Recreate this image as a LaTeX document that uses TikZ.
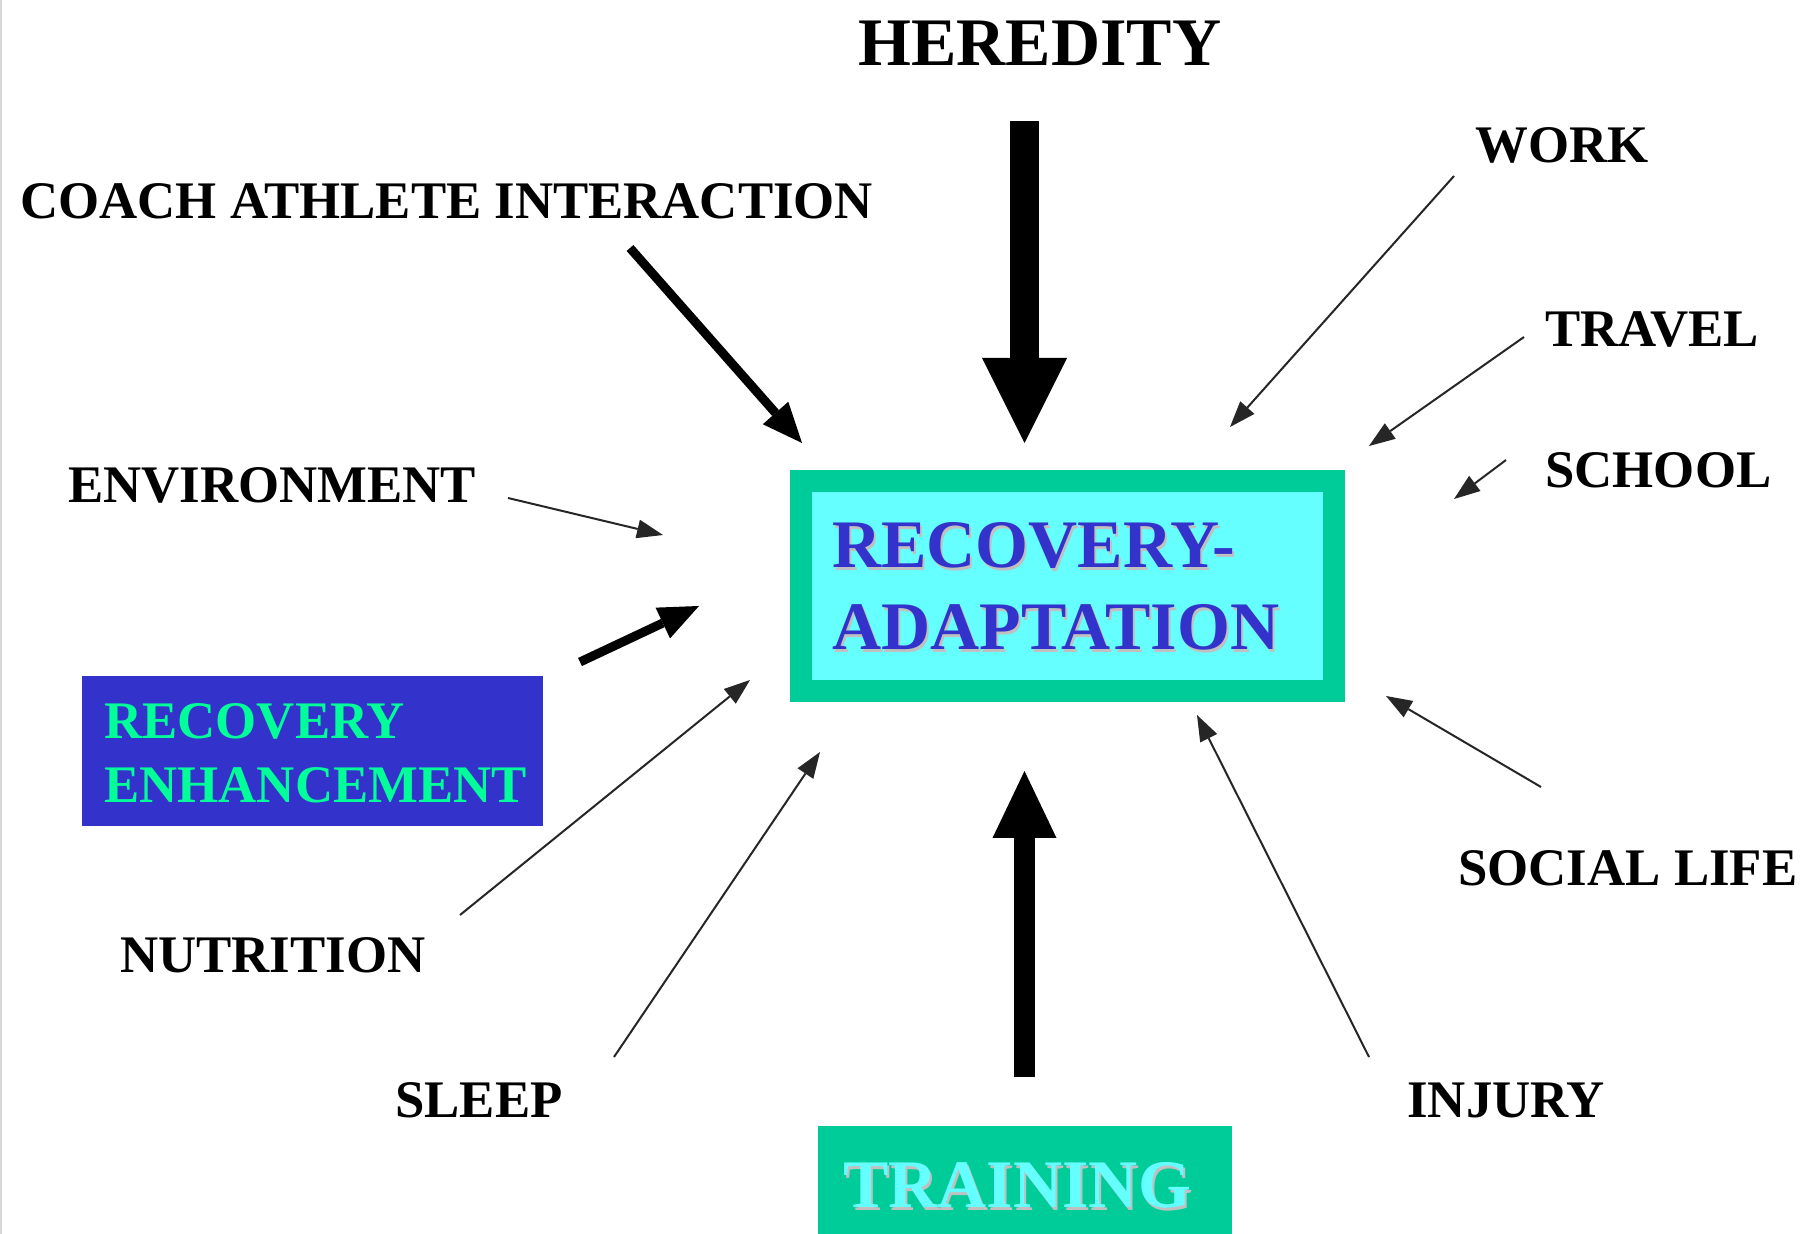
\documentclass[tikz,border=0pt]{standalone}
\usepackage{fontspec}
\setmainfont{Liberation Serif}
\usetikzlibrary{arrows.meta}

\definecolor{boxteal}{RGB}{0,204,153}
\definecolor{boxcyan}{RGB}{102,255,255}
\definecolor{textblue}{RGB}{51,51,204}
\definecolor{enhblue}{RGB}{51,51,204}
\definecolor{enhgreen}{RGB}{0,255,153}
\definecolor{shadowgray}{RGB}{192,192,192}
\definecolor{edgegray}{RGB}{215,215,215}

% text with a soft grey drop shadow
\newcommand\shadowtxt[1]{\makebox[0pt][l]{\hspace{1pt}\raisebox{-1.5pt}{\color{shadowgray}#1}}#1}

\begin{document}
\begin{tikzpicture}[x=0.5pt, y=-0.5pt,
  lbl/.style={anchor=base west, inner sep=0pt, font=\fontsize{26.4pt}{30pt}\selectfont\bfseries},
  biglbl/.style={anchor=base west, inner sep=0pt, font=\fontsize{34pt}{40pt}\selectfont\bfseries},
  minorarrow/.style={draw=black!85, line width=1pt,
    -{Triangle[length=13pt,width=9.5pt,line width=0pt]}},
  majorarrow/.style={draw=black, line width=4.5pt,
    -{Triangle[length=20pt,width=17pt,line width=0pt]}},
  blockarrow/.style={draw=black, line cap=butt}]

\useasboundingbox (0,0) rectangle (1805,1234);
\fill[white] (0,0) rectangle (1805,1234);
\draw[edgegray, line width=0.75pt] (1,0) -- (1,1234);

% central box
\node[draw=boxteal, line width=11pt, fill=boxcyan, minimum width=266.5pt,
      minimum height=105pt, inner sep=0pt] (main) at (1067.5,586) {};
\node[biglbl, text=textblue] (mainA) at (832,568) {\shadowtxt{RECOVERY-}};
\node[biglbl, text=textblue] (mainB) at (832,650) {\shadowtxt{ADAPTATION}};

% recovery enhancement box
\node[fill=enhblue, minimum width=230.5pt, minimum height=75pt, inner sep=0pt]
  (enh) at (312.5,751) {};
\node[lbl, text=enhgreen] (enhA) at (104,739) {RECOVERY};
\node[lbl, text=enhgreen] (enhB) at (104,803) {ENHANCEMENT};

% training box
\node[fill=boxteal, minimum width=207pt, minimum height=54pt, inner sep=0pt]
  (training) at (1025,1180) {};
\node[biglbl, text=boxcyan] (trainingtxt) at (843,1207) {\shadowtxt{TRAINING}};

% factor labels
\node[biglbl] (heredity) at (858,66) {HEREDITY};
\node[lbl] (coach) at (20,219) {COACH ATHLETE INTERACTION};
\node[lbl] (work) at (1475,163) {WORK};
\node[lbl] (travel) at (1545,347) {TRAVEL};
\node[lbl] (school) at (1545,488) {SCHOOL};
\node[lbl] (environment) at (68,503) {ENVIRONMENT};
\node[lbl] (nutrition) at (120,972) {NUTRITION};
\node[lbl] (sleep) at (395,1117) {SLEEP};
\node[lbl] (injury) at (1407,1117) {INJURY};
\node[lbl] (social) at (1458,885) {SOCIAL LIFE};

% arrow ends
\coordinate (heredity-out) at (1024.5,121);
\coordinate (heredity-in)  at (1024.5,443);
\coordinate (training-out) at (1024.5,1077);
\coordinate (training-in)  at (1024.5,771);
\coordinate (coach-out) at (630,248);
\coordinate (coach-in)  at (802,443);
\coordinate (enh-out) at (580,662);
\coordinate (enh-in)  at (699,606);
\coordinate (work-out) at (1454,176);
\coordinate (work-in)  at (1230,427);
\coordinate (travel-out) at (1524,337);
\coordinate (travel-in)  at (1369,446);
\coordinate (school-out) at (1506,460);
\coordinate (school-in)  at (1454,499);
\coordinate (environment-out) at (508,498);
\coordinate (environment-in)  at (663,535);
\coordinate (nutrition-out) at (460,915);
\coordinate (nutrition-in)  at (750,680);
\coordinate (sleep-out) at (614,1057);
\coordinate (sleep-in)  at (820,752);
\coordinate (injury-out) at (1369,1057);
\coordinate (injury-in)  at (1197,715);
\coordinate (social-out) at (1541,787);
\coordinate (social-in)  at (1386,696);

% heavy arrows
\draw[blockarrow, line width=14.5pt,
  -{Triangle[length=42.5pt,width=42.5pt,line width=0pt]}] (heredity-out) -- (heredity-in);
\draw[blockarrow, line width=10.5pt,
  -{Triangle[length=33.5pt,width=32pt,line width=0pt]}] (training-out) -- (training-in);
\draw[majorarrow] (coach-out) -- (coach-in);
\draw[majorarrow] (enh-out) -- (enh-in);

% light arrows
\draw[minorarrow] (work-out) -- (work-in);
\draw[minorarrow] (travel-out) -- (travel-in);
\draw[minorarrow] (school-out) -- (school-in);
\draw[minorarrow] (environment-out) -- (environment-in);
\draw[minorarrow] (nutrition-out) -- (nutrition-in);
\draw[minorarrow] (sleep-out) -- (sleep-in);
\draw[minorarrow] (injury-out) -- (injury-in);
\draw[minorarrow] (social-out) -- (social-in);

\end{tikzpicture}
\end{document}
